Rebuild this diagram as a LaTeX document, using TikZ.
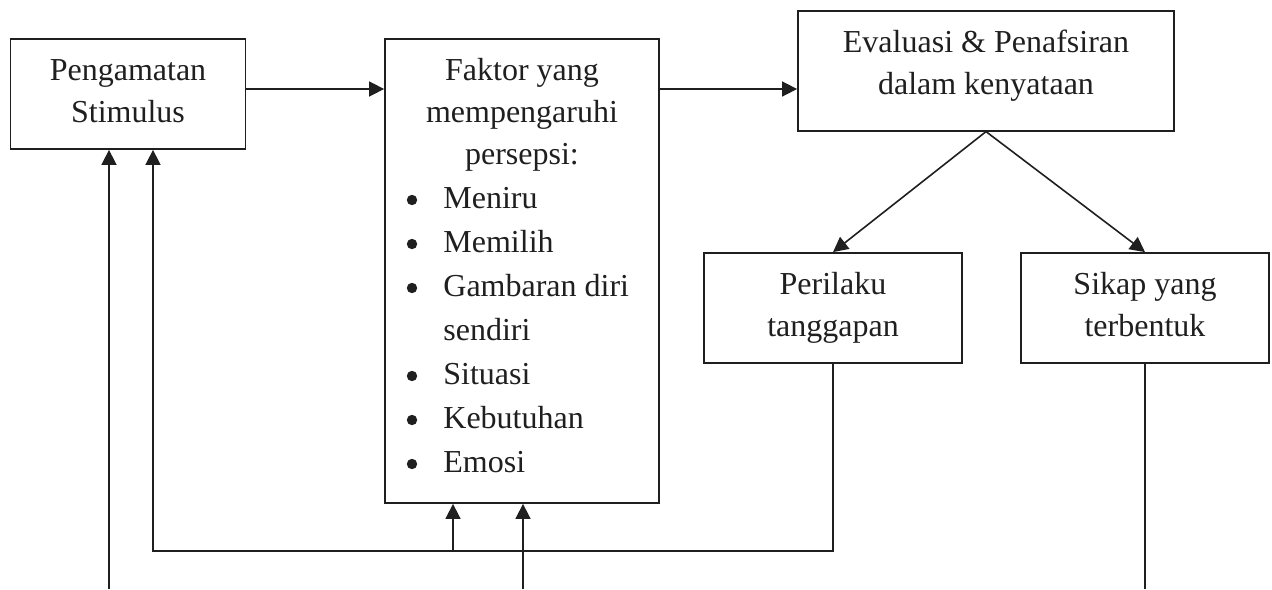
\documentclass[tikz,border=0pt]{standalone}
\usepackage{fontspec}
\setmainfont{Liberation Serif}
\usetikzlibrary{arrows.meta}
\definecolor{ink}{gray}{0.12}
\begin{document}
\begin{tikzpicture}[x=0.5pt,y=-0.5pt,
  box/.style={draw=ink, line width=0.9pt, inner sep=0pt},
  caption/.style={anchor=base, inner sep=0pt, text=ink,
    font=\fontsize{16pt}{21pt}\selectfont},
  listtext/.style={anchor=base west, inner sep=0pt, text=ink,
    font=\fontsize{16pt}{22pt}\selectfont},
  wire/.style={draw=ink, line width=0.8pt},
  arr/.style={wire, -{Triangle[length=7.5pt,width=7.5pt]}}]
\useasboundingbox (0,0) rectangle (1272,589);

% boxes
\node[box, minimum width=117.5pt, minimum height=55pt] (peng) at (128,94) {};
\node[box, minimum width=137pt, minimum height=232pt] (faktor) at (522,271) {};
\node[box, minimum width=188pt, minimum height=60pt] (eval) at (986,70.7) {};
\node[box, minimum width=129pt, minimum height=55pt] (peril) at (833,308) {};
\node[box, minimum width=124pt, minimum height=55pt] (sikap) at (1145,308) {};

% box texts
\node[caption] (pengtxt) at (128,80) {\begin{tabular}[t]{@{}c@{}}Pengamatan\\Stimulus\end{tabular}};
\node[caption] (faktortxt) at (522,80) {\begin{tabular}[t]{@{}c@{}}Faktor yang\\mempengaruhi\\persepsi:\end{tabular}};
\node[listtext] (faktorlist) at (443,208) {\begin{tabular}[t]{@{}l@{}}Meniru\\Memilih\\Gambaran diri\\sendiri\\Situasi\\Kebutuhan\\Emosi\end{tabular}};
\foreach \b in {208,252,296,384,428,472}
  \fill[ink] (412,\b-8) circle[radius=2.6pt];
\node[caption] (evaltxt) at (986,52) {\begin{tabular}[t]{@{}c@{}}Evaluasi \& Penafsiran\\dalam kenyataan\end{tabular}};
\node[caption] (periltxt) at (833,294) {\begin{tabular}[t]{@{}c@{}}Perilaku\\tanggapan\end{tabular}};
\node[caption] (sikaptxt) at (1145,294) {\begin{tabular}[t]{@{}c@{}}Sikap yang\\terbentuk\end{tabular}};

% free ends and junctions
\coordinate (loopjoin) at (453,551);
\coordinate (inA) at (109,589);
\coordinate (inB) at (523,589);
\coordinate (outS) at (1145,589);

% main flow
\draw[arr] (peng.east |- 0,89) -- (faktor.west |- 0,89);
\draw[arr] (faktor.east |- 0,89) -- (eval.west |- 0,89);
\draw[arr] (eval.south) -- (peril.north);
\draw[arr] (eval.south) -- (sikap.north);
\draw[wire] (sikap.south) -- (outS);

% feedback from Perilaku tanggapan
\draw[arr] (peril.south) -- (peril.south |- loopjoin) -| ([xshift=12.5pt]peng.south);
\draw[arr] (loopjoin) -- (loopjoin |- faktor.south);

% incoming lines from below
\draw[arr] (inA) -- (inA |- peng.south);
\draw[arr] (inB) -- (inB |- faktor.south);
\end{tikzpicture}
\end{document}
